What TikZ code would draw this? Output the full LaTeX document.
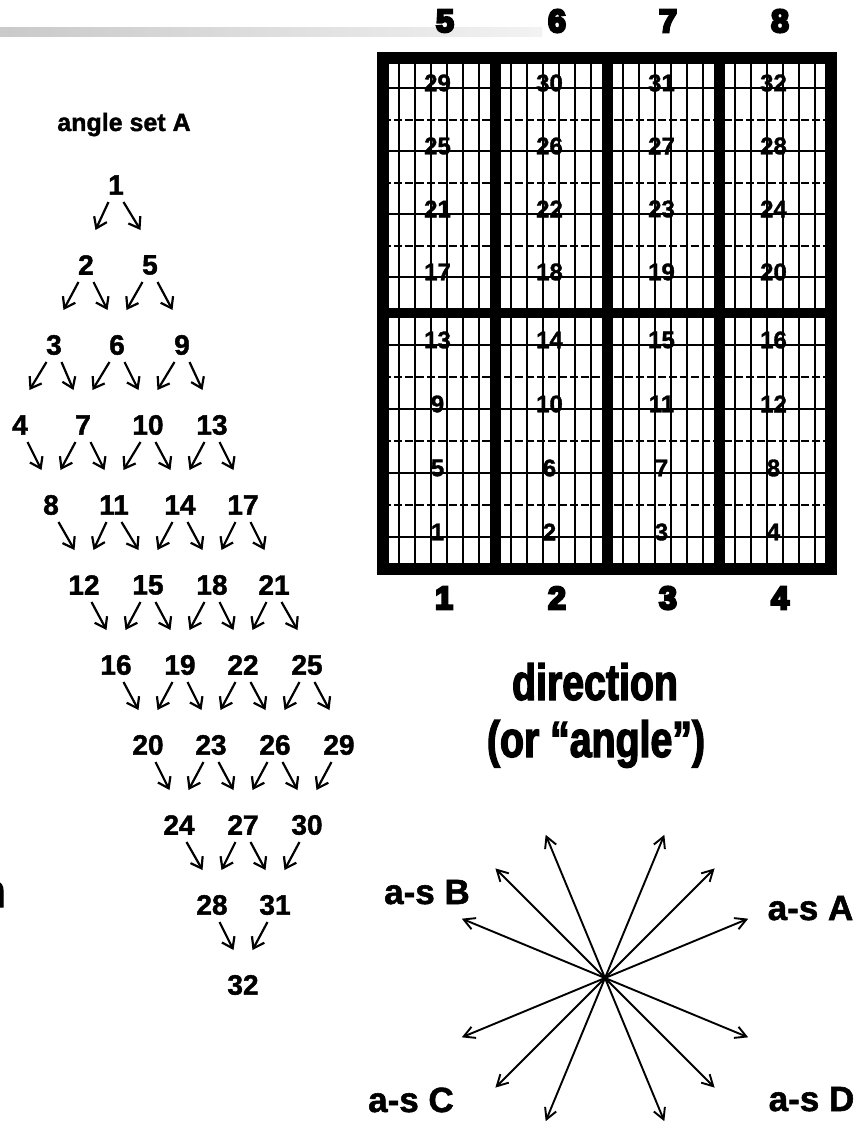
\documentclass[tikz,border=0pt]{standalone}
\usepackage{fontspec}
\setmainfont{Liberation Sans}
\newfontfamily\condfont[FakeStretch=0.77,BoldFeatures={FakeBold=2.5}]{Liberation Sans}
\newfontfamily\heavyfont[BoldFeatures={FakeBold=8}]{Liberation Sans}
\newfontfamily\numfont[BoldFeatures={FakeBold=1.5}]{Liberation Sans}
\usetikzlibrary{arrows.meta,calc}
\begin{document}
\begin{tikzpicture}[x=1pt,y=-1pt,
  tri/.style={font=\numfont\bfseries\fontsize{28}{28}\selectfont, inner sep=0pt},
  glab/.style={font=\numfont\bfseries\fontsize{24}{24}\selectfont, inner sep=0pt},
  bignum/.style={font=\heavyfont\bfseries\fontsize{32}{32}\selectfont, inner sep=0pt},
  asl/.style={font=\numfont\bfseries\fontsize{35}{35}\selectfont, inner sep=0pt, anchor=base},
  dirtxt/.style={font=\condfont\bfseries\fontsize{51}{57}\selectfont, inner sep=0pt, anchor=base},
  treearr/.style={line width=2.2pt, -{Straight Barb[length=10pt,width=14pt]}},
  stararr/.style={line width=1.9pt, -{Straight Barb[length=11pt,width=12pt]}},
  gridline/.style={line width=1.4pt},
  dashline/.style={line width=2pt, dash pattern=on 8pt off 3pt},
  thickframe/.style={line width=12pt},
]
\useasboundingbox (0,0) rectangle (863,1121);
\fill[white] (0,0) rectangle (863,1121);
\begin{scope}
\clip (0,0) rectangle (863,1121);

% gray bar
\shade[left color=black!21, right color=black!5] (0,28) rectangle (542,37);

% ---------- grid ----------
\foreach \k in {0,...,3} {
  \foreach \i in {0,...,5}
    \draw[gridline] ({389+112*\k+10+16*\i},58) -- ++(0,511);
}
\foreach \y in {88,151,214,277,345,409,473,537}
  \draw[gridline] (383,\y) -- (831,\y);
\foreach \y in {120,183,246,377,441,505}
  \draw[dashline] (383,\y) -- (831,\y);
\draw[thickframe] (383,58) rectangle (831,569);
\foreach \x in {495.5,607.5,719.5}
  \fill ({\x-5.5},58) rectangle ({\x+5.5},569);
\fill (383,308) rectangle (831,318);

\foreach \r/\y in {0/83,1/146,2/209,3/272,4/340,5/404,6/468,7/532}
  \foreach \c/\x in {0/437.5,1/549.5,2/661.5,3/773.5} {
    \pgfmathtruncatemacro\n{29-4*\r+\c}
    \node[glab] (g\n) at (\x,\y) {\n};
  }

\foreach \n/\x in {5/445,6/557,7/668,8/780}
  \node[bignum] (t\n) at (\x,21) {\n};
\foreach \n/\x in {1/444,2/557,3/668,4/780}
  \node[bignum] (b\n) at (\x,598) {\n};

% ---------- angle set tree ----------
\node[font=\numfont\bfseries\fontsize{25}{25}\selectfont, anchor=base, inner sep=0pt] (title) at (124,131) {angle set A};

\foreach \n/\x/\y in {1/116/185,
  2/86/265, 5/150/265,
  3/54/345, 6/117/345, 9/182/345,
  4/20/425, 7/83/425, 10/148/425, 13/212/425,
  8/51/505, 11/114/505, 14/180/505, 17/243/505,
  12/84/585, 15/148/585, 18/212/585, 21/274/585,
  16/116/665, 19/180/665, 22/243/665, 25/307/665,
  20/148/745, 23/211/745, 26/275/745, 29/339/745,
  24/179/825, 27/243/825, 30/307/825,
  28/212/905, 31/275/905,
  32/243/985}
  \node[tri] (n\n) at (\x,\y) {\n};

\foreach \p/\c/\s in {1/2/-1, 1/5/1, 2/3/-1, 2/6/1, 5/6/-1, 5/9/1,
  3/4/-1, 3/7/1, 6/7/-1, 6/10/1, 9/10/-1, 9/13/1,
  4/8/1, 7/8/-1, 7/11/1, 10/11/-1, 10/14/1, 13/14/-1, 13/17/1,
  8/12/1, 11/12/-1, 11/15/1, 14/15/-1, 14/18/1, 17/18/-1, 17/21/1,
  12/16/1, 15/16/-1, 15/19/1, 18/19/-1, 18/22/1, 21/22/-1, 21/25/1,
  16/20/1, 19/20/-1, 19/23/1, 22/23/-1, 22/26/1, 25/26/-1, 25/29/1,
  20/24/1, 23/24/-1, 23/27/1, 26/27/-1, 26/30/1, 29/30/-1,
  24/28/1, 27/28/-1, 27/31/1, 30/31/-1,
  28/32/1, 31/32/-1}
  \draw[treearr] ($(n\p)+(\s*7.5,17)$) -- ($(n\c)+(-\s*9.5,-35)$);

% ---------- direction ----------
\node[dirtxt] (dir1) at (595,700) {direction};
\node[dirtxt] (dir2) at (596,757) {(or “angle”)};

\node[font=\condfont\bfseries\fontsize{46}{46}\selectfont, anchor=base east, inner sep=0pt] (cut) at (5.5,907) {n};

% ---------- star of directions ----------
\coordinate (sc) at (605,978);
\foreach \a [count=\i] in {22.5,45,67.5,112.5,135,157.5,202.5,225,247.5,292.5,315,337.5} {
  \coordinate (se\i) at ($(sc)+({155*cos(\a)},{-155*sin(\a)})$);
  \draw[stararr] (sc) -- (se\i);
}
\node[asl] (asA) at (810.5,920) {a-s A};
\node[asl] (asB) at (427,904) {a-s B};
\node[asl] (asC) at (411,1112) {a-s C};
\node[asl] (asD) at (811.5,1111) {a-s D};
\end{scope}
\end{tikzpicture}
\end{document}
